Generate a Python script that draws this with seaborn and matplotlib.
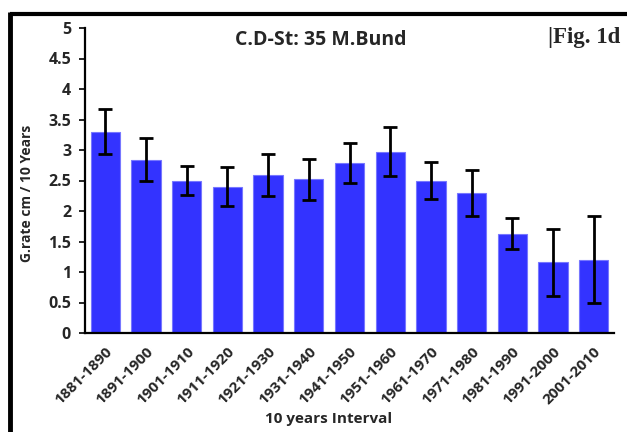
import numpy as np
import pandas as pd
import matplotlib
matplotlib.use("Agg")
import matplotlib.pyplot as plt
import seaborn as sns
from matplotlib.lines import Line2D

intervals = ["1881-1890", "1891-1900", "1901-1910", "1911-1920", "1921-1930",
             "1931-1940", "1941-1950", "1951-1960", "1961-1970", "1971-1980",
             "1981-1990", "1991-2000", "2001-2010"]
rates = [3.30, 2.84, 2.50, 2.40, 2.59, 2.52, 2.79, 2.97, 2.50, 2.30, 1.63, 1.16, 1.20]
errors = [0.37, 0.35, 0.23, 0.32, 0.35, 0.34, 0.33, 0.40, 0.30, 0.38, 0.25, 0.55, 0.71]
yticks = [0, 0.5, 1, 1.5, 2, 2.5, 3, 3.5, 4, 4.5, 5]
ytick_labels = ["0", "0.5", "1", "1.5", "2", "2.5", "3", "3.5", "4", "4.5", "5"]

sns.set_style("white")
plt.rcParams["font.family"] = ["Open Sans", "DejaVu Sans"]

df = pd.DataFrame({"interval": intervals, "rate": rates})

fig = plt.figure(figsize=(6.27, 4.32), dpi=100)
ax = fig.add_axes([85 / 627, 1 - 333 / 432, (614 - 85) / 627, (333 - 28) / 432])

sns.barplot(data=df, x="interval", y="rate", ax=ax, color="#3333FF",
            saturation=1, width=0.72, edgecolor="#7777FF", linewidth=0.8,
            errorbar=None)
ax.errorbar(np.arange(len(intervals)), rates, yerr=errors, fmt="none",
            ecolor="black", elinewidth=2, capsize=5, capthick=2, zorder=5)

ax.set_xlim(-0.5, len(intervals) - 0.5)
ax.set_ylim(0, 5)
ax.set_yticks(yticks)
ax.set_yticklabels(ytick_labels, fontsize=11.5, fontweight="bold")
ax.set_xticks(np.arange(len(intervals)))
ax.set_xticklabels(intervals, rotation=45, ha="right", rotation_mode="anchor",
                   fontsize=11, fontweight="bold")
ax.tick_params(axis="y", which="both", left=True, length=4, width=1.2,
               color="black", pad=6)
ax.tick_params(axis="x", bottom=False, pad=5)

for side in ["top", "right"]:
    ax.spines[side].set_visible(False)
for side in ["left", "bottom"]:
    ax.spines[side].set_color("black")
    ax.spines[side].set_linewidth(1.6)

ax.set_xlabel("")
ax.set_ylabel("")

fig.text(27 / 627, 1 - 193 / 432, "G.rate cm / 10 Years", rotation=90,
         ha="center", va="center", fontsize=10, fontweight="bold")
fig.text(329 / 627, 1 - 419 / 432, "10 years Interval", ha="center",
         va="center", fontsize=11, fontweight="bold")
fig.text(321 / 627, 1 - 40 / 432, "C.D-St: 35 M.Bund", ha="center",
         va="center", fontsize=14, fontweight="bold")
fig.text(548 / 627, 1 - 38 / 432, "|Fig. 1d", ha="left", va="center",
         fontsize=16.5, fontweight="bold", family=["Liberation Serif", "DejaVu Serif"])

# outer frame (top and left lines)
fig.add_artist(Line2D([9.5 / 627, 1.0], [1 - 14 / 432, 1 - 14 / 432],
                      transform=fig.transFigure, color="black", linewidth=3,
                      solid_capstyle="butt"))
fig.add_artist(Line2D([9.5 / 627, 9.5 / 627], [0, 1 - 12 / 432],
                      transform=fig.transFigure, color="black", linewidth=3.5,
                      solid_capstyle="butt"))

fig.savefig("out.png", dpi=100)
